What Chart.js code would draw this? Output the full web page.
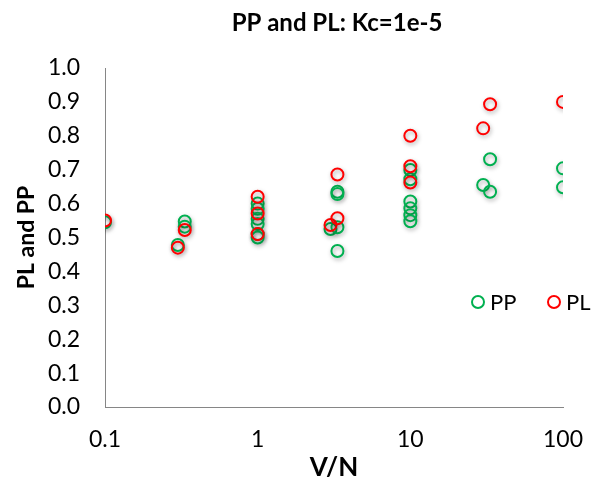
<!DOCTYPE html>
<html>
<head>
<meta charset="utf-8">
<script src="https://cdn.jsdelivr.net/npm/chart.js"></script>
<style>
  html, body { margin: 0; padding: 0; background: #fff; }
  #wrap { width: 594px; height: 488px; }
</style>
</head>
<body>
<div id="wrap"><canvas id="myChart" width="594" height="488"></canvas></div>
<script>
// values
const ppX = [0.1, 0.3, 0.333, 0.333, 1, 1, 1, 1, 1, 1, 3, 3.33, 3.33, 3.33, 3.33, 10, 10, 10, 10, 10, 10, 30, 33.3, 33.3, 100, 100];
const ppY = [0.545, 0.478, 0.547, 0.532, 0.600, 0.585, 0.555, 0.540, 0.510, 0.500, 0.525, 0.530, 0.635, 0.628, 0.460, 0.699, 0.672, 0.606, 0.586, 0.566, 0.548, 0.655, 0.731, 0.635, 0.704, 0.648];
const plX = [0.1, 0.3, 0.333, 1, 1, 1, 3, 3.33, 3.33, 10, 10, 10, 30, 33.3, 100];
const plY = [0.550, 0.470, 0.522, 0.620, 0.571, 0.510, 0.537, 0.557, 0.686, 0.800, 0.710, 0.662, 0.822, 0.893, 0.900];
const xTicks = [0.1, 1, 10, 100];
const seriesNames = ['PP', 'PL'];
const chartTitle = 'PP and PL: Kc=1e-5';
const green = '#00B050';
const red = '#FF0000';

const toPts = (xs, ys) => xs.map((x, i) => ({ x: x, y: ys[i] }));

const FONT = 'Lato, "Open Sans", sans-serif';

// soft shadow under markers, like the original
const shadowPlugin = {
  id: 'shadow',
  beforeDatasetsDraw(chart) {
    const c = chart.ctx;
    c.save();
    c.shadowColor = 'rgba(0,0,0,0.35)';
    c.shadowBlur = 4;
    c.shadowOffsetX = 1;
    c.shadowOffsetY = 2;
  },
  afterDatasetsDraw(chart) {
    chart.ctx.restore();
  }
};

// title centred over the plot area, legend inside the plot (lower right)
const extrasPlugin = {
  id: 'extras',
  afterDraw(chart) {
    const c = chart.ctx;
    const a = chart.chartArea;
    c.save();
    c.fillStyle = '#000';
    c.font = 'bold 24px ' + FONT;
    c.textAlign = 'center';
    c.textBaseline = 'middle';
    c.fillText(chartTitle, (a.left + a.right) / 2 + 3, 23);

    const items = [
      { name: seriesNames[0], color: green, x: 478 },
      { name: seriesNames[1], color: red, x: 554 }
    ];
    const y = 302;
    items.forEach(it => {
      c.beginPath();
      c.arc(it.x, y, 6, 0, Math.PI * 2);
      c.lineWidth = 2;
      c.strokeStyle = it.color;
      c.stroke();
      c.fillStyle = '#000';
      c.font = '22px ' + FONT;
      c.textBaseline = 'middle';
      c.textAlign = 'left';
      c.fillText(it.name, it.x + 12, y + 1);
    });
    c.restore();
  }
};

new Chart(document.getElementById('myChart'), {
  type: 'scatter',
  data: {
    datasets: [
      {
        label: seriesNames[0],
        data: toPts(ppX, ppY),
        borderColor: green,
        backgroundColor: 'rgba(255,255,255,0)',
        pointRadius: 6,
        pointBorderWidth: 2,
        order: 1
      },
      {
        label: seriesNames[1],
        data: toPts(plX, plY),
        borderColor: red,
        backgroundColor: 'rgba(255,255,255,0)',
        pointRadius: 6,
        pointBorderWidth: 2,
        order: 0
      }
    ]
  },
  options: {
    responsive: false,
    animation: false,
    devicePixelRatio: 1,
    layout: { padding: { left: 0, right: 31, top: 68, bottom: 0 } },
    plugins: {
      legend: { display: false },
      tooltip: { enabled: false },
      title: { display: false }
    },
    scales: {
      x: {
        type: 'logarithmic',
        min: 0.1,
        max: 100,
        afterBuildTicks: s => { s.ticks = xTicks.map(v => ({ value: v })); },
        afterFit: s => { s.height = 81; s.paddingLeft = 0; s.paddingRight = 0; },
        ticks: {
          color: '#000',
          font: { family: FONT, size: 23 },
          padding: 19,
          maxRotation: 0,
          callback: v => String(v)
        },
        grid: { display: false, drawTicks: false },
        border: { display: true, color: '#868686', width: 1 },
        title: {
          display: true,
          text: 'V/N',
          color: '#000',
          font: { family: FONT, size: 26, weight: 'bold' },
          padding: { top: 0, bottom: 5 }
        }
      },
      y: {
        min: 0,
        max: 1,
        afterFit: s => { s.width = 105; s.paddingTop = 0; s.paddingBottom = 0; },
        ticks: {
          stepSize: 0.1,
          color: '#000',
          font: { family: FONT, size: 23 },
          padding: 25,
          callback: v => v.toFixed(1)
        },
        grid: { display: false, drawTicks: false },
        border: { display: true, color: '#868686', width: 1 },
        title: {
          display: true,
          text: 'PL and PP',
          color: '#000',
          font: { family: FONT, size: 23, weight: 'bold' },
          padding: { top: 13, bottom: 0 }
        }
      }
    }
  },
  plugins: [shadowPlugin, extrasPlugin]
});
</script>
</body>
</html>
